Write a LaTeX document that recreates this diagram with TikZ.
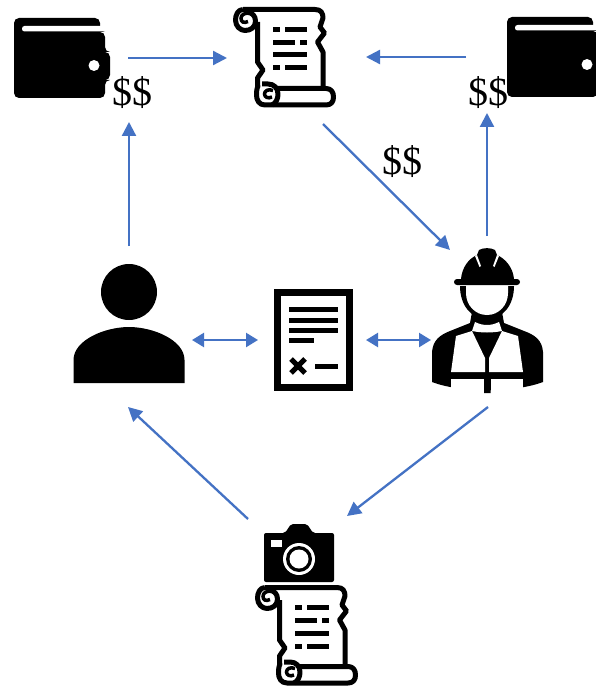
\documentclass[tikz,border=0pt]{standalone}
\usepackage{fontspec}
\setmainfont{Liberation Serif}
\usetikzlibrary{arrows.meta}
\definecolor{arrowblue}{HTML}{4472C4}
\tikzset{
  x=1pt,y=-1pt,
  link/.style={draw=arrowblue,line width=2.3pt,-{Triangle[length=14pt,width=14pt]}},
  linkboth/.style={draw=arrowblue,line width=2.3pt,{Triangle[length=12pt,width=14pt]}-{Triangle[length=12pt,width=14pt]}},
  money/.style={font=\fontsize{40}{40}\selectfont,inner sep=0pt,text=black},
  ink/.style={draw=black,line width=5pt,line cap=butt,line join=round},
  wallet/.pic={
    \fill[black,rounded corners=5pt] (14,30) -- (14,18) -- (100,18) -- (100,32) -- (105,32) -- (105,52) -- (110,52) -- (110,80) -- (105,80) -- (105,98) -- (14,98) -- cycle;
    \fill[white,rounded corners=2.5pt] (22,26) rectangle (114,31.5);
    \fill[white] (94,65.5) circle (5.5);
  },
  scroll/.pic={
    \draw[ink] (243,9.5) -- (315,9.5) .. controls (321,9.5) and (323,13) .. (323,18)
       -- (320,27) -- (324.5,33) -- (317.5,42) -- (323,52) -- (323,88);
    \draw[ink] (243,9.5) .. controls (238,9.5) and (235.5,15) .. (235.5,20)
       .. controls (235.5,26) and (240,30.5) .. (245,30.5) .. controls (251,30.5) and (255.5,27) .. (255.5,21)
       .. controls (255.5,16) and (252,12.5) .. (248,12.5);
    \draw[black,line width=3.5pt] (249,13) .. controls (244,13) and (241,15) .. (241,18.5)
       .. controls (241,22) and (244,23.5) .. (248,21.5);
    \draw[ink] (257.5,22) -- (257.5,62) -- (263,70) -- (257.5,78) -- (257.5,88);
    \draw[ink] (277,88.5) -- (326,88.5) .. controls (331,88.5) and (333.5,92) .. (333.5,97)
       .. controls (333.5,102) and (331,105) .. (326,105) -- (265,105)
       .. controls (259,105) and (256.5,100) .. (256.5,95)
       .. controls (256.5,91) and (257,88) .. (258,85);
    \draw[ink] (262,84) -- (268,84) .. controls (274,84) and (278,88) .. (278,94)
       .. controls (278,99) and (276,103) .. (272,105);
    \draw[black,line width=3.5pt] (273,90.5) .. controls (268,88.5) and (264.5,91) .. (264.5,94)
       .. controls (264.5,97) and (268,99) .. (272,97);
    \foreach \xa/\xb/\yy in {273/280/29.5,285/307/29.5,273/295/42.5,300/307/42.5,273/307/55,273/280/68,285/307/68}
      \fill[black] (\xa,\yy-2.5) rectangle (\xb,\yy+2.5);
  }
}
\begin{document}
\begin{tikzpicture}
\useasboundingbox (0,0) rectangle (596,687);
\fill[white] (0,0) rectangle (596,687);
\begin{scope}
\clip (0,0) rectangle (596,687);
\pic at (0,0) {wallet};
\pic at (493,-1) {wallet};
\end{scope}
\pic at (0,0) {scroll};
\pic at (22,578) {scroll};
% person
\fill[black] (129,292) circle (28);
\fill[black] (73.5,383) -- (73.5,360) .. controls (73.5,340) and (105,327) .. (129,327)
  .. controls (153,327) and (184.5,340) .. (184.5,360) -- (184.5,383) -- cycle;
% contract
\draw[black,line width=7pt] (277.5,292.5) rectangle (349.5,387.5);
\foreach \yy in {309.5,320,330}
  \fill[black] (289,\yy-2.5) rectangle (338,\yy+2.5);
\fill[black] (289,338) rectangle (314,343);
\draw[black,line width=5pt] (291,359) -- (305,373) (305,359) -- (291,373);
\fill[black] (315,363.5) rectangle (338,368.5);
% worker
\fill[black] (432,352) .. controls (433,340) and (440,335) .. (450,331)
  -- (470,323) -- (472,312) -- (502,312) -- (504,323) -- (524,331)
  .. controls (535,335) and (542,340) .. (543,352) -- (543,382)
  .. controls (530,387) and (510,390) .. (490.5,390) -- (490.5,393) -- (483.5,393) -- (483.5,390)
  .. controls (464,390) and (445,387) .. (432,382) -- cycle;
\fill[white] (456,336) -- (472,331) -- (485,358) -- (485,372) -- (451,372) -- cycle;
\fill[white] (518,336) -- (502,331) -- (489,358) -- (489,372) -- (523,372) -- cycle;
\fill[white] (451,379) rectangle (483.5,396);
\fill[white] (523,379) rectangle (490.5,396);
\fill[white] (475,322) .. controls (483,326) and (491,326) .. (499,322) -- (502,331) .. controls (492,333) and (482,333) .. (472,331) -- cycle;
\fill[black] (460,286) .. controls (460,305) and (471,319) .. (487,319) .. controls (503,319) and (514,305) .. (514,286) -- cycle;
\fill[white] (466,285) -- (508,285) -- (508,293) .. controls (508,305) and (499,315) .. (487,315) .. controls (475,315) and (466,305) .. (466,293) -- cycle;
\fill[black] (461,279) .. controls (462,268) and (468,259) .. (477,255) -- (479,250) .. controls (483,247.5) and (491,247.5) .. (495,250) -- (497,255)
  .. controls (506,259) and (513,268) .. (514,279) -- cycle;
\fill[black,rounded corners=3pt] (454,279) rectangle (520,285);
\fill[white] (475,256) -- (477,255) -- (481,266) -- (479.5,267) -- cycle;
\fill[white] (499,256) -- (497,255) -- (493,266) -- (494.5,267) -- cycle;
% camera
\fill[black,rounded corners=2pt] (264,533) -- (285,533) -- (291,524) -- (307,524) -- (313,533) -- (334,533) -- (334,582) -- (264,582) -- cycle;
\fill[white] (271,540) rectangle (282,547);
\fill[white] (299,559) circle (16);
\fill[black] (299,559) circle (13);
\fill[white] (299,559) circle (9.5);
% money labels
\node[money] (moneyL) at (132,93) {\$\$};
\node[money] (moneyC) at (402,162) {\$\$};
\node[money] (moneyR) at (488,93) {\$\$};
% connector ends
\coordinate (walletLout) at (128,58);
\coordinate (scrollTinL) at (227,58);
\coordinate (walletRout) at (466,57);
\coordinate (scrollTinR) at (366,57);
\coordinate (personUp) at (129,246);
\coordinate (walletLin) at (129,122);
\coordinate (workerUp) at (487,236);
\coordinate (walletRin) at (487,113);
\coordinate (scrollTout) at (323,124);
\coordinate (workerIn) at (450,250);
\coordinate (personR) at (192,340);
\coordinate (docL) at (258,340);
\coordinate (docR) at (366,340);
\coordinate (workerL) at (431,340);
\coordinate (workerDown) at (488,407);
\coordinate (cameraR) at (347,516);
\coordinate (cameraL) at (248,519);
\coordinate (personIn) at (128,407);
\draw[link] (walletLout) -- (scrollTinL);
\draw[link] (walletRout) -- (scrollTinR);
\draw[link] (personUp) -- (walletLin);
\draw[link] (workerUp) -- (walletRin);
\draw[link] (scrollTout) -- (workerIn);
\draw[linkboth] (personR) -- (docL);
\draw[linkboth] (docR) -- (workerL);
\draw[link] (workerDown) -- (cameraR);
\draw[link] (cameraL) -- (personIn);
\end{tikzpicture}
\end{document}
